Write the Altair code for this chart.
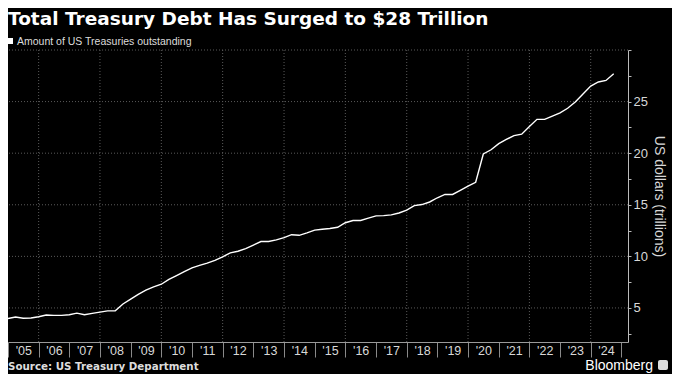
import altair as alt
import pandas as pd

title_text = "Total Treasury Debt Has Surged to $28 Trillion"
legend_text = "Amount of US Treasuries outstanding"
source_text = "Source: US Treasury Department"
brand_text = "Bloomberg"
y_title = "US dollars (trillions)"

# quarterly observations, 2005 Q1 .. 2024 Q4
dates = [d.strftime("%Y-%m-%d") for d in pd.date_range("2005-01-01", periods=80, freq="QS")]
values = [
    3.97, 4.12, 4.00, 4.03, 4.15, 4.31, 4.28, 4.28, 4.34, 4.50,
    4.34, 4.47, 4.60, 4.72, 4.72, 5.38, 5.85, 6.32, 6.73, 7.05,
    7.30, 7.76, 8.14, 8.52, 8.89, 9.12, 9.34, 9.62, 9.96, 10.34,
    10.50, 10.75, 11.10, 11.44, 11.44, 11.60, 11.81, 12.10, 12.04, 12.28,
    12.54, 12.63, 12.70, 12.82, 13.26, 13.48, 13.48, 13.70, 13.92, 13.95,
    14.02, 14.20, 14.49, 14.92, 15.02, 15.27, 15.68, 16.00, 16.00, 16.40,
    16.80, 17.18, 19.92, 20.33, 20.92, 21.33, 21.70, 21.84, 22.59, 23.28,
    23.28, 23.60, 23.90, 24.35, 24.95, 25.73, 26.50, 26.90, 27.05, 27.70,
]

tick_years = list(range(2005, 2026))
grid_years = list(range(2006, 2025, 2))
grid_values = [5, 10, 15, 20, 25, 30]
y_ticks = [2.5, 5, 7.5, 10, 12.5, 15, 17.5, 20, 22.5, 25, 27.5, 30]

df = pd.DataFrame({"date": dates, "value": values})
vgrid_df = pd.DataFrame({"date": [f"{y}-01-01" for y in grid_years]})
hgrid_df = pd.DataFrame({"value": grid_values})

x_scale = alt.Scale(
    type="utc",
    domain=[alt.DateTime(year=2005, month=1, date=1, utc=True),
            alt.DateTime(year=2025, month=3, date=20, utc=True)],
)
y_scale = alt.Scale(domain=[1.7, 30], nice=False, zero=False)

x_axis = alt.Axis(
    title=None,
    values=[alt.DateTime(year=y, month=1, date=1, utc=True) for y in tick_years],
    labelExpr="year(datum.value) < 2025 ? utcFormat(datum.value, \"'%y\") : ''",
    tickSize=15,
    tickColor="#8a8a8a",
    domainColor="#9a9a9a",
    labelPadding=-13,
    labelOffset=15.3,
    labelFlush=False,
    labelOverlap=False,
    labelColor="#d8d8d8",
    labelFontSize=12.5,
    labelFont="Liberation Sans",
    grid=False,
)
y_axis = alt.Axis(
    title=y_title,
    orient="right",
    values=y_ticks,
    labelExpr="datum.value % 5 == 0 && datum.value < 30 ? datum.label : ''",
    tickSize=3,
    tickColor="#bbbbbb",
    domainColor="#bbbbbb",
    labelPadding=2,
    labelColor="#d8d8d8",
    labelFontSize=13,
    labelFont="Liberation Sans",
    titleFont="Liberation Sans",
    titleColor="#d8d8d8",
    titleFontSize=14,
    titleFontWeight="normal",
    titleAngle=90,
    titlePadding=4,
    grid=False,
)

grid_style = dict(color="#5a5a5a", strokeDash=[1, 2], strokeWidth=1)

vgrid = alt.Chart(vgrid_df).mark_rule(**grid_style).encode(
    x=alt.X("date:T", scale=x_scale, axis=x_axis)
)
hgrid = alt.Chart(hgrid_df).mark_rule(**grid_style).encode(
    y=alt.Y("value:Q", scale=y_scale, axis=y_axis)
)

line = alt.Chart(df).mark_line(color="#ffffff", strokeWidth=1.4).encode(
    x=alt.X("date:T", scale=x_scale, axis=x_axis),
    y=alt.Y("value:Q", scale=y_scale, axis=y_axis),
)

def label(text, x, y, size, weight="normal", color="#ffffff", align="left", font="Liberation Sans"):
    return alt.Chart(pd.DataFrame({"t": [text]})).mark_text(
        align=align, baseline="alphabetic", fontSize=size, fontWeight=weight,
        color=color, font=font,
    ).encode(x=alt.value(x), y=alt.value(y), text="t:N")

title = label(title_text, 0, -25, 18.5, weight="bold", font="DejaVu Sans")
legend_label = label(legend_text, 9, -5, 10.5, color="#dddddd")
legend_square = alt.Chart(pd.DataFrame({"t": [legend_text]})).mark_square(
    color="#ffffff", size=36, opacity=1
).encode(x=alt.value(2), y=alt.value(-9))
source = label(source_text, 0, 320, 10.3, weight="bold", color="#dddddd", font="DejaVu Sans")
brand = label(brand_text, 645, 320, 14, weight="normal", color="#ffffff", align="right")
logo = alt.Chart(pd.DataFrame({"t": [brand_text]})).mark_rect(
    color="#dddddd", cornerRadius=2
).encode(x=alt.value(650), x2=alt.value(660), y=alt.value(310), y2=alt.value(320))

chart = alt.layer(
    vgrid, hgrid, line, title, legend_square, legend_label, source, brand, logo
).properties(
    width=620,
    height=292,
    autosize=alt.AutoSizeParams(type="none"),
    padding={"left": 0, "top": 42, "right": 44, "bottom": 32},
    background="#000000",
).configure_view(stroke=None)

chart.save("out.html", embed_options={"renderer": "svg", "actions": False})
